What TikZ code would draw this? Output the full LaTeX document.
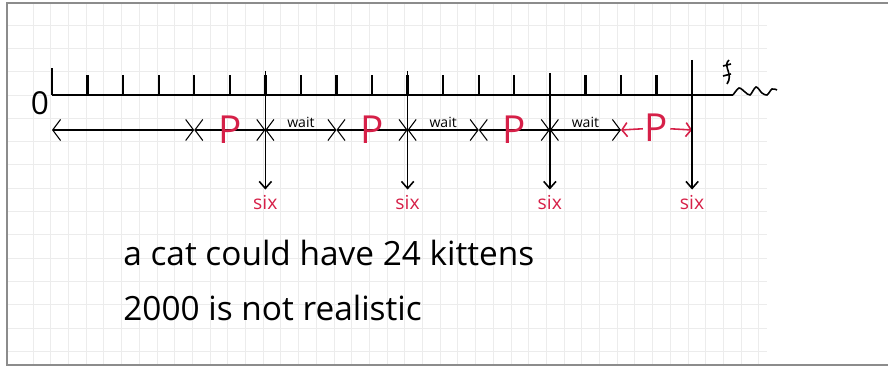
\documentclass[tikz,border=0pt]{standalone}
\usepackage{fontspec}
\setmainfont{Open Sans}
\usetikzlibrary{positioning,arrows.meta}
\definecolor{inkred}{RGB}{214,32,72}
\definecolor{gridgray}{RGB}{236,236,236}
\definecolor{framegray}{RGB}{140,140,140}

\begin{document}
\begin{tikzpicture}[
			x=0.02cm, y=-0.02cm,
			>={Straight Barb[length=4.5pt,width=12pt]},
			axisline/.style={line width=1.3pt},
			span/.style={<->, line width=0.6pt},
			sixarrow/.style={-{Straight Barb[length=4pt,width=7pt]}, line width=0.9pt},
			plabel/.style={text=inkred, inner sep=1pt, font=\fontsize{22}{22}\selectfont},
			waitlabel/.style={inner sep=1pt, font=\fontsize{8}{8}\selectfont},
			sixlabel/.style={text=inkred, font=\fontsize{11}{11}\selectfont},
			note/.style={anchor=base west, inner sep=0pt, font=\fontsize{19}{19}\selectfont}
			]
			
			\useasboundingbox (0,0) rectangle (888,367);
			
			%%%%%%%%%%%%%%%%%%%%%%%%%%%%%%%%%%%%%%%%%%%%%%%%%%%%%%%%%%%%
			% Paper
			%%%%%%%%%%%%%%%%%%%%%%%%%%%%%%%%%%%%%%%%%%%%%%%%%%%%%%%%%%%%
			
			\foreach \gx in {0,...,41}
			\draw[gridgray] ({33+17.7*\gx},3) -- ++(0,362);
			\foreach \gy in {0,...,14}
			\draw[gridgray] (7,{25+23.3*\gy}) -- (767,{25+23.3*\gy});
			
			\draw[framegray,line width=0.8pt] (888,3) -- (7,3) -- (7,365) -- (888,365);
			
			%%%%%%%%%%%%%%%%%%%%%%%%%%%%%%%%%%%%%%%%%%%%%%%%%%%%%%%%%%%%
			% Time line
			%%%%%%%%%%%%%%%%%%%%%%%%%%%%%%%%%%%%%%%%%%%%%%%%%%%%%%%%%%%%
			
			\foreach \k in {0,...,18}
			\coordinate (t\k) at ({52+35.56*\k},95);
			\coordinate (axisend) at (733,95);
			
			\node (zero) at (40,103) [font=\fontsize{18}{18}\selectfont] {0};
			
			\draw[axisline] (t0) -- (axisend);
			\draw[axisline] (t0) -- ++(0,-27);
			\foreach \k in {1,...,17}
			\draw[axisline] (t\k) -- ++(0,-20);
			
			% break
			\draw[line width=0.9pt] (axisend) plot[smooth] coordinates
			{(733,95) (739,88) (745,92) (750,95) (756,87) (762,93) (767,95) (772,89) (777,90)};
			\draw[line width=0.9pt] (729,60) .. controls (722,66) and (734,74) .. (727,84);
			\draw[line width=0.9pt] (723,66) -- (731,64);
			\draw[line width=0.9pt] (723,76) -- (731,74);
			
			%%%%%%%%%%%%%%%%%%%%%%%%%%%%%%%%%%%%%%%%%%%%%%%%%%%%%%%%%%%%
			% Spans
			%%%%%%%%%%%%%%%%%%%%%%%%%%%%%%%%%%%%%%%%%%%%%%%%%%%%%%%%%%%%
			
			\foreach \k in {0,4,6,8,10,12,14,16,18}
			\coordinate (b\k) at ({52+35.56*\k},130);
			
			\draw[span] (b0) -- (b4);
			
			\draw[span] (b4) -- node[plabel] (p1) {P} (b6);
			\draw[span] (b8) -- node[plabel] (p2) {P} (b10);
			\draw[span] (b12) -- node[plabel] (p3) {P} (b14);
			
			\draw[span] (b6) -- node[waitlabel,above] (w1) {wait} (b8);
			\draw[span] (b10) -- node[waitlabel,above] (w2) {wait} (b12);
			\draw[span] (b14) -- node[waitlabel,above] (w3) {wait} (b16);
			
			% last one in red
			\node (p4) at ({52+35.56*17},128) [plabel] {P};
			\draw[inkred,line width=0.9pt,-{Straight Barb[length=3pt,width=8pt]}] (p4) -- (b16);
			\draw[inkred,line width=0.9pt,-{Straight Barb[length=3pt,width=8pt]}] (p4) -- (b18);
			
			%%%%%%%%%%%%%%%%%%%%%%%%%%%%%%%%%%%%%%%%%%%%%%%%%%%%%%%%%%%%
			% Litters
			%%%%%%%%%%%%%%%%%%%%%%%%%%%%%%%%%%%%%%%%%%%%%%%%%%%%%%%%%%%%
			
			\foreach \k/\n/\top in {6/1/71, 10/2/71, 14/3/73, 18/4/60} {
				\coordinate (top\n) at ({52+35.56*\k},\top);
				\node (six\n) at ({52+35.56*\k},203) [sixlabel] {six};
				\draw[sixarrow] (top\n) -- (six\n.north);
			}
			
			%%%%%%%%%%%%%%%%%%%%%%%%%%%%%%%%%%%%%%%%%%%%%%%%%%%%%%%%%%%%
			% Notes
			%%%%%%%%%%%%%%%%%%%%%%%%%%%%%%%%%%%%%%%%%%%%%%%%%%%%%%%%%%%%
			
			\node (note1) at (123,266) [note] {a cat could have 24 kittens};
			\node (note2) at (123,321) [note] {2000 is not realistic};
			
		\end{tikzpicture}
\end{document}
